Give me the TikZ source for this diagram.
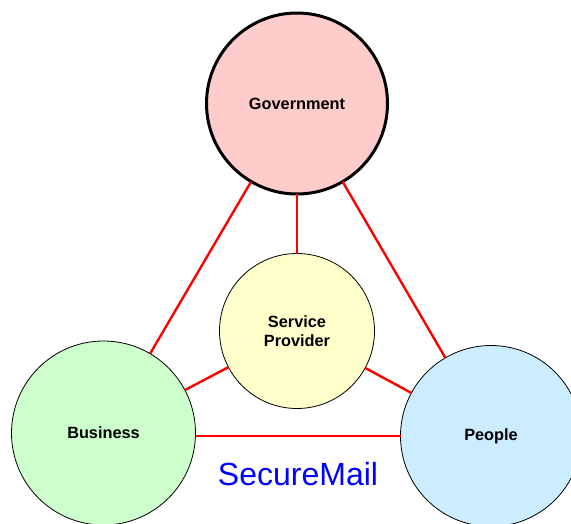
\documentclass[tikz,border=0pt]{standalone}
\usepackage{fontspec}
\setmainfont{Liberation Sans}
\begin{document}
\begin{tikzpicture}[x=1pt,y=-1pt,
  party/.style={circle,draw=black,line width=0.8pt,inner sep=0pt,outer sep=0pt,
    font=\fontsize{16.3}{19}\selectfont\bfseries,align=center},
  link/.style={draw=red,line width=2.4pt}]
\useasboundingbox (0,0) rectangle (571,523);
% the three parties and the provider in the middle
\node[party,fill={rgb,255:red,255;green,204;blue,204},line width=3pt,minimum size=181pt] (gov) at (297,103.5) {Government};
\node[party,fill={rgb,255:red,255;green,255;blue,204},minimum size=155pt] (sp) at (297,331) {Service\\Provider};
\node[party,fill={rgb,255:red,204;green,255;blue,204},minimum size=184pt] (bus) at (103.5,433) {Business};
\node[party,fill={rgb,255:red,204;green,236;blue,255},minimum size=181pt] (ppl) at (491,436) {People};
% links between every pair
\draw[link] (gov) -- (bus);
\draw[link] (gov) -- (ppl);
\draw[link] (gov) -- (sp);
\draw[link] (sp) -- (bus);
\draw[link] (sp) -- (ppl);
\draw[link] (ppl.west) -- (ppl.west -| bus.east);
% caption
\node[text={rgb,255:red,0;green,0;blue,255},font=\fontsize{32}{38}\selectfont] (title) at (298,474) {SecureMail};
\end{tikzpicture}
\end{document}
